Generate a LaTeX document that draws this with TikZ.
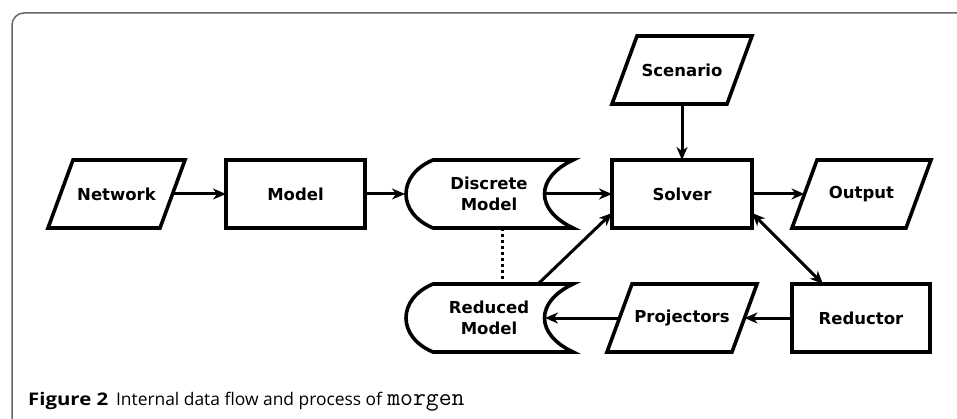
\documentclass[tikz,border=0pt]{standalone}
\usepackage{fontspec}
\setmainfont{DejaVu Sans}
\newfontfamily\capfont{Open Sans}
\usetikzlibrary{arrows.meta}
\newcommand\drawpara[1]{\draw[outline] ([xshift=12.5pt]#1.north west) -- ([xshift=12.5pt]#1.north east) -- ([xshift=-12.5pt]#1.south east) -- ([xshift=-12.5pt]#1.south west) -- cycle;}
\newcommand\drawtape[1]{\draw[outline] ([xshift=28pt]#1.north west) -- (#1.north east) .. controls ([xshift=-38pt,yshift=-18pt]#1.north east) and ([xshift=-38pt,yshift=18pt]#1.south east) .. (#1.south east) -- ([xshift=28pt]#1.south west) .. controls ([xshift=-8pt,yshift=15pt]#1.south west) and ([xshift=-8pt,yshift=-15pt]#1.north west) .. cycle;}
\begin{document}
\begin{tikzpicture}[x=1pt,y=-1pt,
 box/.style={minimum height=68pt, inner sep=0pt, outer sep=0pt, align=center, font=\fontsize{16.5}{21}\selectfont\bfseries},
 rectbox/.style={box, draw, line width=3.6pt},
 tip/.tip={Stealth[length=13pt,width=11pt,inset=4pt]},
 flow/.style={line width=3pt, -tip},
 outline/.style={line width=3.6pt, line join=miter}
]
\useasboundingbox (0,0) rectangle (957,419);
\draw[draw=black!60, line width=1.5pt, rounded corners=12pt] (12,419) -- (12,13) -- (957,13);

\node[box, minimum width=115pt] (scen) at (682,70) {Scenario};
\drawpara{scen}
\node[box, minimum width=112pt] (net) at (116.5,194) {Network};
\drawpara{net}
\node[rectbox, minimum width=139pt] (mod) at (295.5,194) {Model};
\node[box, minimum width=168pt] (dm) at (489,194) {Discrete\\Model};
\drawtape{dm}
\node[rectbox, minimum width=140pt] (sol) at (682,194) {Solver};
\node[box, minimum width=114pt] (out) at (861.5,194) {Output};
\drawpara{out}
\node[box, minimum width=168pt] (rm) at (489,318) {Reduced\\Model};
\drawtape{rm}
\node[box, minimum width=125pt] (proj) at (682,318) {Projectors};
\drawpara{proj}
\node[rectbox, minimum width=138pt] (red) at (861,318) {Reductor};

\draw[flow] (net.east) -- (mod.west);
\draw[flow] (mod.east) -- (dm.west);
\draw[flow] ([xshift=-30pt]dm.east) -- (sol.west);
\draw[flow] (scen.south) -- (sol.north);
\draw[flow] (sol.east) -- (out.west);
\draw[flow, tip-tip] ([yshift=-19pt]sol.east) -- ([xshift=-38pt]red.north);
\draw[flow] (red.west) -- (proj.east);
\draw[flow] (proj.west) -- ([xshift=-28pt]rm.east);
\draw[flow] ([xshift=49pt]rm.north) -- ([yshift=-19pt]sol.west);
\draw[line width=3pt, dash pattern=on 3pt off 3pt] ([xshift=13pt]dm.south) -- ([xshift=13pt]rm.north);

\node[anchor=base west, inner sep=0pt] (cap) at (28,405) {\capfont\fontsize{17.4}{20}\selectfont\scalebox{1.17}[1]{\bfseries Figure 2}\hspace{0.45em}Internal data flow and process of\hspace{0.3em}{\fontsize{25}{26}\selectfont\ttfamily morgen}};
\end{tikzpicture}
\end{document}
